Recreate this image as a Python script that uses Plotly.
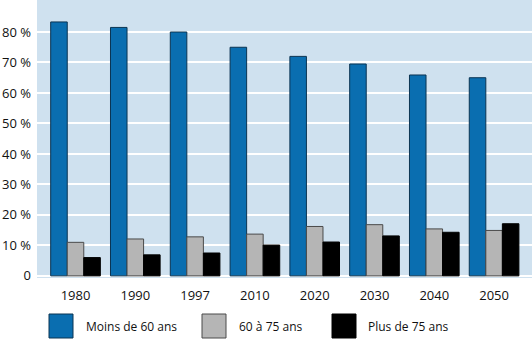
import plotly.graph_objects as go

years = ["1980", "1990", "1997", "2010", "2020", "2030", "2040", "2050"]
series_names = ["Moins de 60 ans", "60 à 75 ans", "Plus de 75 ans"]
moins_60 = [83.3, 81.5, 80.0, 75.0, 72.0, 69.5, 65.9, 65.0]
de_60_75 = [11.0, 12.1, 12.8, 13.7, 16.2, 16.8, 15.4, 14.9]
plus_75 = [6.0, 6.9, 7.5, 10.1, 11.1, 13.1, 14.3, 17.1]
y_ticks = [0, 10, 20, 30, 40, 50, 60, 70, 80]
y_ticktext = ["0", "10 %", "20 %", "30 %", "40 %", "50 %", "60 %", "70 %", "80 %"]

colors = ["#0a6eb0", "#b5b5b5", "#000000"]
outlines = ["#0b3452", "#4a4a4a", "#000000"]

W, H = 532, 346
L, R, T, B = 37, 0, 0, 68
FONT = "Open Sans"

xs = list(range(len(years)))
fig = go.Figure()
for name, vals, c, oc in zip(series_names, [moins_60, de_60_75, plus_75], colors, outlines):
    fig.add_trace(go.Bar(x=xs, y=vals, name=name, marker=dict(color=c, line=dict(color=oc, width=1)),
                         showlegend=False))

fig.update_layout(
    width=W, height=H,
    margin=dict(l=L, r=R, t=T, b=B),
    paper_bgcolor="white", plot_bgcolor="#cfe1ef",
    barmode="group", bargap=0.17, bargroupgap=0,
    font=dict(family=FONT, size=13, color="#111"),
    xaxis=dict(range=[-0.644, 7.634], tickvals=xs, ticktext=years, showgrid=False,
               zeroline=False, showline=False, ticks="", ticklabelstandoff=8,
               tickfont=dict(size=13)),
    yaxis=dict(range=[-0.7, 90.5], tickvals=y_ticks, ticktext=y_ticktext, showgrid=True,
               gridcolor="white", gridwidth=2, zeroline=False, showline=False, ticks="",
               ticklabelstandoff=5, tickfont=dict(size=13)),
)

# legend drawn manually
plot_w = W - L - R
plot_h = H - T - B
def px(x):
    return (x - L) / plot_w
def py(y):
    return (T + plot_h - y) / plot_h

legend_items = [(49, 84), (202, 237), (332, 366)]
for (sx, tx), name, c, oc in zip(legend_items, series_names, colors, outlines):
    fig.add_shape(type="rect", xref="paper", yref="paper",
                  x0=px(sx), x1=px(sx + 24), y0=py(338), y1=py(314),
                  fillcolor=c, line=dict(color=oc, width=1))
    fig.add_annotation(xref="paper", yref="paper", x=px(tx), y=py(326), text=name,
                       showarrow=False, xanchor="left", yanchor="middle",
                       font=dict(size=12, family=FONT, color="#111"))

fig.write_html("out.html")
